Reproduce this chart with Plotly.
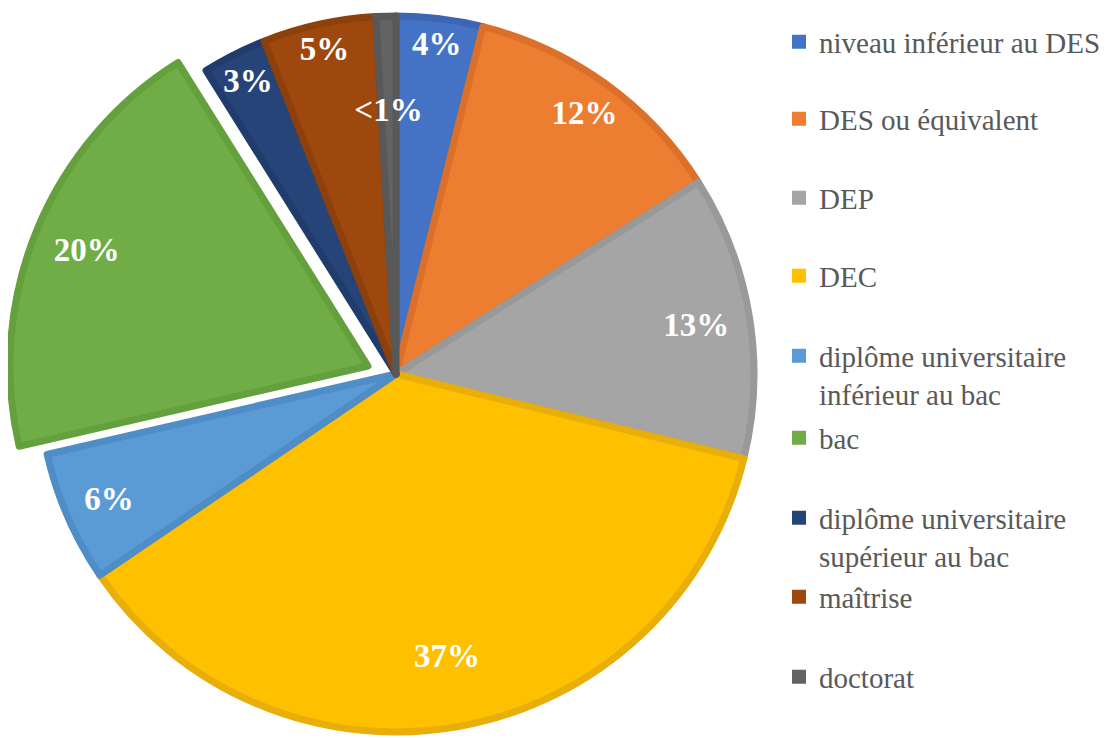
import plotly.graph_objects as go

# ---------------- data ----------------
categories = ["niveau inférieur au DES", "DES ou équivalent", "DEP", "DEC",
              "diplôme universitaire inférieur au bac", "bac",
              "diplôme universitaire supérieur au bac", "maîtrise", "doctorat"]
legend_labels = ["niveau inférieur au DES", "DES ou équivalent", "DEP", "DEC",
                 "diplôme universitaire<br>inférieur au bac", "bac",
                 "diplôme universitaire<br>supérieur au bac", "maîtrise", "doctorat"]
values = [3.9, 12.1, 12.8, 36.7, 5.9, 19.7, 2.9, 5.1, 0.9]
pct_labels = ["4%", "12%", "13%", "37%", "6%", "20%", "3%", "5%", "<1%"]
exploded = "bac"
small_label = "doctorat"

# ---------------- styles ----------------
fill_colors = ["#4472C4", "#ED7D31", "#A5A5A5", "#FFC000", "#5B9BD5",
               "#70AD47", "#264478", "#9E480E", "#636363"]
border_colors = ["#3C66B4", "#DA7029", "#999999", "#E8AE0A", "#4F8DC6",
                 "#64A03D", "#203C6C", "#8E400C", "#585858"]
SERIF = "Liberation Serif"
CLEAR = "rgba(0,0,0,0)"
PAGE_OFF = 8                       # default body margin of the html page
W, H = 1108 - PAGE_OFF, 738 - PAGE_OFF
CX, CY, R = 396, 374, 358          # pie centre / radius in window px
SHIFT_X, SHIFT_Y = -28, -8         # exploded slice offset in px
R_SMALL = 272                      # radius used to place the tiny label
LINE_W = 7
LABEL_FONT = dict(family=SERIF, size=33, color="white", weight="bold")
# hole of the transparent label layer -> how far from the centre each label sits
label_hole = {"niveau inférieur au DES": 0.86, "DES ou équivalent": 0.8, "DEP": 0.7,
              "DEC": 0.6, "diplôme universitaire inférieur au bac": 0.75, "bac": 0.7,
              "diplôme universitaire supérieur au bac": 0.7, "maîtrise": 0.86}
LEG_X_PX = 779
LEG_ROWS_PX = [42, 119, 198, 276, 356, 438, 518, 597, 677]
LEG_FONT = 29
LINE_H = LEG_FONT * 1.3


def clamp(v):
    return min(1.0, max(0.0, v))


def dom(cx, cy, r):
    cx, cy = cx - PAGE_OFF, cy - PAGE_OFF
    return dict(x=[clamp((cx - r) / W), clamp((cx + r) / W)],
                y=[clamp(1 - (cy + r) / H), clamp(1 - (cy - r) / H)])


common = dict(labels=categories, values=values, sort=False, direction="clockwise",
              rotation=0, showlegend=False, hoverinfo="skip")

fig = go.Figure()

# main pie (exploded slice left empty)
fig.add_trace(go.Pie(
    **common, domain=dom(CX, CY, R), textinfo="none",
    marker=dict(colors=[CLEAR if c == exploded else f for c, f in zip(categories, fill_colors)],
                line=dict(color=[CLEAR if c == exploded else b for c, b in zip(categories, border_colors)],
                          width=[0 if c == exploded else LINE_W for c in categories]))))

# exploded slice, shifted
fig.add_trace(go.Pie(
    **common, domain=dom(CX + SHIFT_X, CY + SHIFT_Y, R), textinfo="none",
    marker=dict(colors=[f if c == exploded else CLEAR for c, f in zip(categories, fill_colors)],
                line=dict(color=[b if c == exploded else CLEAR for c, b in zip(categories, border_colors)],
                          width=[LINE_W if c == exploded else 0 for c in categories]))))


# label layers (transparent donuts so labels sit near the rim)
def label_trace(domain, keep, hole):
    return go.Pie(**common, domain=domain, hole=hole, textinfo="text",
                  text=[t if keep(c) else "" for c, t in zip(categories, pct_labels)],
                  textposition="inside", insidetextorientation="horizontal",
                  textfont=LABEL_FONT,
                  marker=dict(colors=[CLEAR] * len(categories), line=dict(width=0)))


for hole in sorted(set(v for k, v in label_hole.items() if k != exploded)):
    fig.add_trace(label_trace(dom(CX, CY, R),
                              lambda c, h=hole: c != exploded and label_hole.get(c) == h, hole))
fig.add_trace(label_trace(dom(CX, CY, R_SMALL), lambda c: c == small_label, 0.7))
fig.add_trace(label_trace(dom(CX + SHIFT_X, CY + SHIFT_Y, R), lambda c: c == exploded,
                          label_hole[exploded]))

# legend entries
layout_legends = {}
for i, (lab, col) in enumerate(zip(legend_labels, fill_colors)):
    key = "legend" if i == 0 else f"legend{i + 1}"
    fig.add_trace(go.Scatter(x=[None], y=[None], mode="markers", name=lab,
                             marker=dict(symbol="square", size=14, color=col, line=dict(width=0)),
                             legend=key, showlegend=True, hoverinfo="skip"))
    nlines = lab.count("<br>") + 1
    ymid = LEG_ROWS_PX[i] - PAGE_OFF + (nlines - 1) * LINE_H / 2
    layout_legends[key] = dict(x=(LEG_X_PX - PAGE_OFF) / W, xanchor="left",
                               y=1 - ymid / H, yanchor="middle",
                               font=dict(family=SERIF, size=LEG_FONT, color="#595959"),
                               bgcolor=CLEAR, borderwidth=0, valign="top",
                               itemclick=False, itemdoubleclick=False)

fig.update_layout(width=W, height=H, margin=dict(l=0, r=0, t=0, b=0, autoexpand=False),
                  paper_bgcolor="white", plot_bgcolor="white", showlegend=True,
                  uniformtext=dict(minsize=33, mode="show"),
                  xaxis=dict(visible=False), yaxis=dict(visible=False),
                  **layout_legends)

fig.write_html("out.html")
